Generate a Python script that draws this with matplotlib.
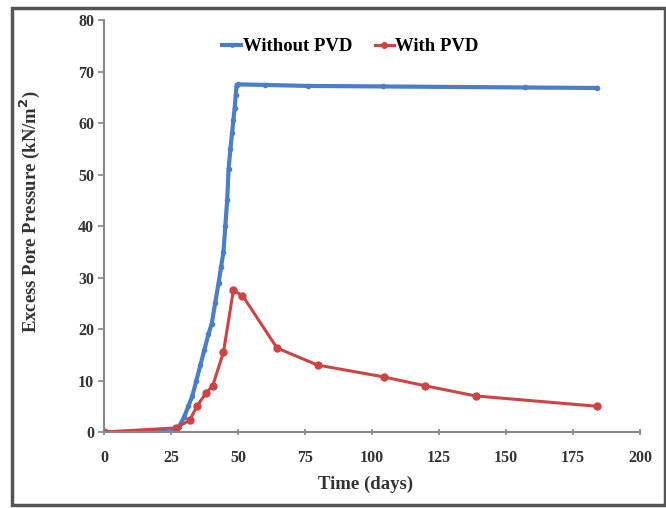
import numpy as np
import matplotlib
matplotlib.use('Agg')
from matplotlib import pyplot as plt
from matplotlib.patches import Rectangle

# Without PVD
t_without = [0, 12, 25, 28, 30, 31.5, 33, 34.5, 36, 37.5, 39, 40.2, 41.5, 42.8, 43.7,
             44.6, 45.3, 46, 46.5, 47.2, 47.8, 48.3, 48.8, 49.2, 49.5, 50, 60, 76, 104, 157, 184]
p_without = [0, 0, 0, 1, 3, 5, 7, 10, 13, 16, 19, 21, 25, 29, 32,
             35, 40, 45, 51, 55, 58, 60.6, 63, 65.5, 67.4, 67.5, 67.4, 67.2, 67.1, 66.9, 66.8]

# With PVD
t_with = [0, 27, 32, 34.7, 38, 40.6, 44.6, 48.3, 51.7, 64.6, 79.7, 104.4, 119.6, 138.7, 184]
p_with = [0, 0.8, 2.3, 5, 7.5, 9, 15.5, 27.5, 26.5, 16.3, 13, 10.7, 9, 7, 5]

plt.rcParams['font.family'] = ['Liberation Serif', 'DejaVu Serif']
plt.rcParams['font.weight'] = 'bold'

fig = plt.figure(figsize=(6.66, 5.08), dpi=100)
ax = fig.add_axes([0.156, 0.1496, 0.805, 0.811])

fig.patches.append(Rectangle((0.018, 0.006), 0.98, 0.978, transform=fig.transFigure,
                             fill=False, edgecolor='#555555', linewidth=2.5))

ax.plot(t_without, p_without, color='#4a7fc8', linewidth=3, marker='o', markersize=3,
        label='Without PVD')
ax.plot(t_with, p_with, color='#cc4444', linewidth=2.2, marker='o', markersize=5,
        label='With PVD')

ax.set_xlim(0, 200)
ax.set_ylim(0, 80)
ax.set_xticks(np.arange(0, 201, 25))
ax.set_yticks(np.arange(0, 81, 10))
for s in ['top', 'right']:
    ax.spines[s].set_visible(False)
for s in ['left', 'bottom']:
    ax.spines[s].set_color('#888888')
    ax.spines[s].set_linewidth(1.5)
ax.tick_params(axis='both', colors='#888888', labelcolor='#333333', labelsize=11.5,
               length=4, width=1.2)
ax.tick_params(axis='x', direction='inout', pad=11)
ax.tick_params(axis='y', pad=3)

ax.set_xlabel('Time (days)', fontsize=13.5, fontweight='bold', color='#333333')
ax.xaxis.set_label_coords(0.488, -0.107)
ax.set_ylabel('Excess Pore Pressure (kN/m$^2$)', fontsize=13.5, fontweight='bold',
              color='#333333')
ax.yaxis.set_label_coords(-0.115, 0.534)

ax.legend(loc='center', bbox_to_anchor=(0.46, 0.935), ncol=2, frameon=False,
          fontsize=13.5, handlelength=1.0, handletextpad=0.1, columnspacing=1.2,
          markerscale=0.8)

plt.savefig('out.png', dpi=100)
